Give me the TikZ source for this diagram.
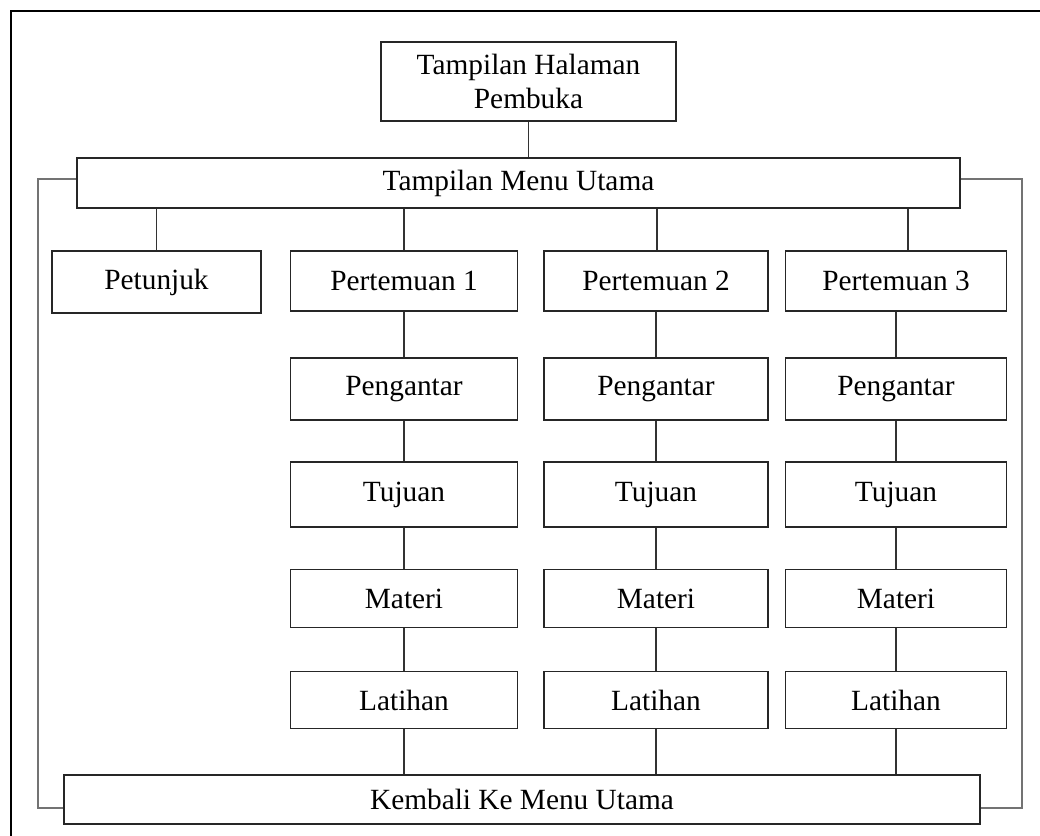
\documentclass[tikz,border=0pt]{standalone}
\usepackage{fontspec}
\setmainfont{Liberation Serif}

\begin{document}
\begin{tikzpicture}[x=0.75pt,y=-0.75pt,line width=1.4pt,font=\fontsize{22}{25}\selectfont]

    \tikzstyle{box}=[draw=black!85,fill=white,inner sep=0pt,align=center]
    \tikzstyle{link}=[draw=black!80,line width=1.3pt]
    \tikzstyle{back}=[draw=black!55,line width=1.3pt]

    \useasboundingbox (0,0) rectangle (1040,836);
    \clip (0,0) rectangle (1040,836);
    \draw[line width=1.8pt] (11,11) rectangle (1070,870);

    \node[box,minimum width=221.25pt,minimum height=59.25pt] (buka) at (528.5,81.5) {Tampilan Halaman\\Pembuka};
    \node[box,minimum width=662.25pt,minimum height=37.5pt]  (menu) at (518.5,183)  {Tampilan Menu Utama};
    \node[box,minimum width=156.75pt,minimum height=46.5pt]  (pet)  at (156.5,282)  {Petunjuk};
    \node[box,minimum width=687pt,minimum height=36.75pt]    (kem)  at (522,799.5)  {Kembali Ke Menu Utama};

    \draw[link] (buka.south) -- (buka.south |- menu.north);
    \draw[link] (menu.south -| pet.north) -- (pet.north);

    % tiap pertemuan satu kolom
    \foreach \c/\x/\w/\k in {1/404/227/0,2/656/224/1,3/896/221/12}{
      \foreach \r/\y/\h/\t in {0/281/60/Pertemuan \c,1/389/62/Pengantar,2/494.5/65/Tujuan,3/598.5/58/Materi,4/700/57/Latihan}
        \node[box,minimum width=\w*0.75pt,minimum height=\h*0.75pt] (m\c-\r) at (\x,\y) {\t};
      \draw[link] ([xshift=\k*0.75pt]m\c-0.north) -- ([xshift=\k*0.75pt]m\c-0.north |- menu.south);
      \foreach \r [count=\s from 1] in {0,...,3}
        \draw[link] (m\c-\r.south) -- (m\c-\r.south |- m\c-\s.north);
      \draw[link] (m\c-4.south) -- (m\c-4.south |- kem.north);
    }

    % garis kembali
    \coordinate (lt) at (38,179);
    \coordinate (lb) at (38,808);
    \coordinate (rt) at (1022,179);
    \coordinate (rb) at (1022,808);
    \draw[back] (menu.west |- lt) -- (lt) -- (lb) -- (kem.west |- lb);
    \draw[back] (menu.east |- rt) -- (rt) -- (rb) -- (kem.east |- rb);

\end{tikzpicture}
\end{document}
